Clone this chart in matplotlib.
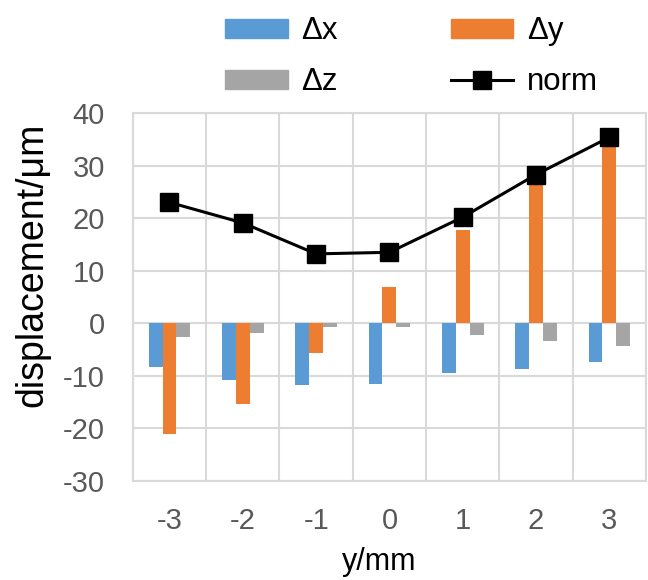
import matplotlib.pyplot as plt
import numpy as np
from matplotlib.patches import Patch
from matplotlib.lines import Line2D

plt.rcParams['font.family'] = ['Liberation Sans', 'DejaVu Sans']
plt.rcParams['axes.unicode_minus'] = False

# data
positions = [-3, -2, -1, 0, 1, 2, 3]
dx = [-8.3, -10.8, -11.7, -11.6, -9.5, -8.8, -7.4]
dy = [-21.0, -15.3, -5.7, 6.9, 17.7, 26.7, 34.3]
dz = [-2.6, -1.9, -0.7, -0.8, -2.2, -3.3, -4.4]
norm = [23.0, 19.1, 13.2, 13.5, 20.2, 28.3, 35.4]

c_x = '#5b9bd5'
c_y = '#ed7d31'
c_z = '#a5a5a5'
grid_c = '#d9d9d9'
text_c = '#595959'

fig = plt.figure(figsize=(6.48, 5.8), dpi=100)
ax = fig.add_axes([0.205, 0.171, 0.792, 0.634])

idx = np.arange(len(positions))
w = 0.19
ax.bar(idx - w, dx, w, color=c_x, zorder=2)
ax.bar(idx, dy, w, color=c_y, zorder=2)
ax.bar(idx + w, dz, w, color=c_z, zorder=2)
ax.plot(idx, norm, color='black', lw=2.2, marker='s', ms=13, zorder=3)

ax.set_xlim(-0.5, len(positions) - 0.5)
ax.set_ylim(-30, 40)
ax.set_yticks(np.arange(-30, 41, 10))
ax.set_xticks(idx)
ax.set_xticklabels([str(p) for p in positions])
ax.set_xticks(np.arange(-0.5, len(positions), 1), minor=True)

ax.grid(True, axis='y', which='major', color=grid_c, lw=1.5, zorder=0)
ax.grid(True, axis='x', which='minor', color=grid_c, lw=1.5, zorder=0)
ax.tick_params(which='both', length=0, labelsize=21, colors=text_c)
ax.tick_params(axis='y', pad=20)
ax.tick_params(axis='x', pad=19)
for s in ax.spines.values():
    s.set_color(grid_c)
    s.set_linewidth(1.5)

# axis titles
fig.text(32 / 648, 1 - 265 / 580, 'displacement/μm', rotation=90,
         ha='center', va='center', fontsize=27)
fig.text(379 / 648, 1 - 562 / 580, 'y/mm', ha='center', va='center', fontsize=22)

handles = [Patch(color=c_x), Patch(color=c_z), Patch(color=c_y),
           Line2D([], [], color='black', lw=2.2, marker='s', ms=13)]
labels = ['Δx', 'Δz', 'Δy', 'norm']
fig.legend(handles, labels, ncol=2, loc='upper left', bbox_to_anchor=(225 / 648, 0.972),
           frameon=False, fontsize=22.5, handlelength=2.0, handleheight=0.55,
           handletextpad=0.45, columnspacing=3.6, labelspacing=0.68,
           borderpad=0, borderaxespad=0)

fig.savefig('out.png', dpi=100)
